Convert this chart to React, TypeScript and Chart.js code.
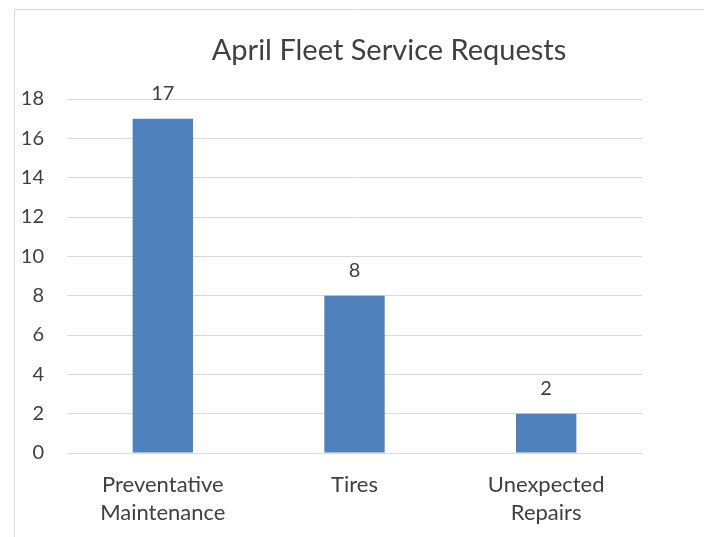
import React, { useEffect, useRef } from "react";
import { Chart, registerables } from "chart.js";

Chart.register(...registerables);

const categories: string[][] = [["Preventative", "Maintenance"], ["Tires"], ["Unexpected", "Repairs"]];
const requests: number[] = [17, 8, 2];
const titleText = "April Fleet Service Requests";
const yMax = 18;
const yStep = 2;

const FONT = "Lato";
const TEXT = "#404040";

const framePlugin = {
  id: "frameAndTitle",
  beforeDraw(chart: any) {
    const ctx = chart.ctx;
    ctx.save();
    ctx.fillStyle = "#ffffff";
    ctx.fillRect(0, 0, chart.width, chart.height);
    ctx.strokeStyle = "#d9d9d9";
    ctx.lineWidth = 1;
    ctx.beginPath();
    ctx.moveTo(14.5, chart.height);
    ctx.lineTo(14.5, 9.5);
    ctx.lineTo(chart.width, 9.5);
    ctx.stroke();
    ctx.fillStyle = TEXT;
    ctx.font = `29px ${FONT}`;
    ctx.textAlign = "center";
    ctx.textBaseline = "middle";
    ctx.fillText(titleText, 389, 51);
    ctx.restore();
  },
  afterDatasetsDraw(chart: any) {
    const ctx = chart.ctx;
    const meta = chart.getDatasetMeta(0);
    ctx.save();
    ctx.fillStyle = TEXT;
    ctx.font = `20px ${FONT}`;
    ctx.textAlign = "center";
    ctx.textBaseline = "alphabetic";
    meta.data.forEach((el: any, i: number) => {
      ctx.fillText(String(requests[i]), el.x, el.y - 18.5);
    });
    ctx.restore();
  },
};

export default function App() {
  const ref = useRef<HTMLCanvasElement>(null);
  useEffect(() => {
    if (!ref.current) return;
    const chart = new Chart(ref.current, {
      type: "bar",
      data: {
        labels: categories,
        datasets: [
          {
            data: requests,
            backgroundColor: "#4f81bd",
            barPercentage: 1,
            categoryPercentage: 0.315,
          },
        ],
      },
      options: {
        animation: false,
        responsive: false,
        layout: { padding: { left: 14, right: 62, top: 99, bottom: 0 } },
        plugins: { legend: { display: false }, title: { display: false }, tooltip: { enabled: false } },
        scales: {
          x: {
            grid: { display: false, drawTicks: false },
            border: { display: false },
            ticks: {
              color: TEXT,
              font: { family: FONT, size: 22, lineHeight: 1.273 },
              padding: 18,
              maxRotation: 0,
            },
            afterFit(scale: any) {
              scale.height = 84;
            },
          },
          y: {
            min: 0,
            max: yMax,
            grid: { color: "#d9d9d9", lineWidth: 1, drawTicks: false },
            border: { display: false },
            ticks: {
              stepSize: yStep,
              color: TEXT,
              font: { family: FONT, size: 20 },
              padding: 23,
            },
            afterFit(scale: any) {
              scale.width = 53;
            },
          },
        },
      },
      plugins: [framePlugin],
    });
    return () => chart.destroy();
  }, []);
  return (
    <div style={{ position: "absolute", left: 0, top: 0, width: 704, height: 537 }}>
      <canvas ref={ref} width={704} height={537} style={{ display: "block" }} />
    </div>
  );
}
